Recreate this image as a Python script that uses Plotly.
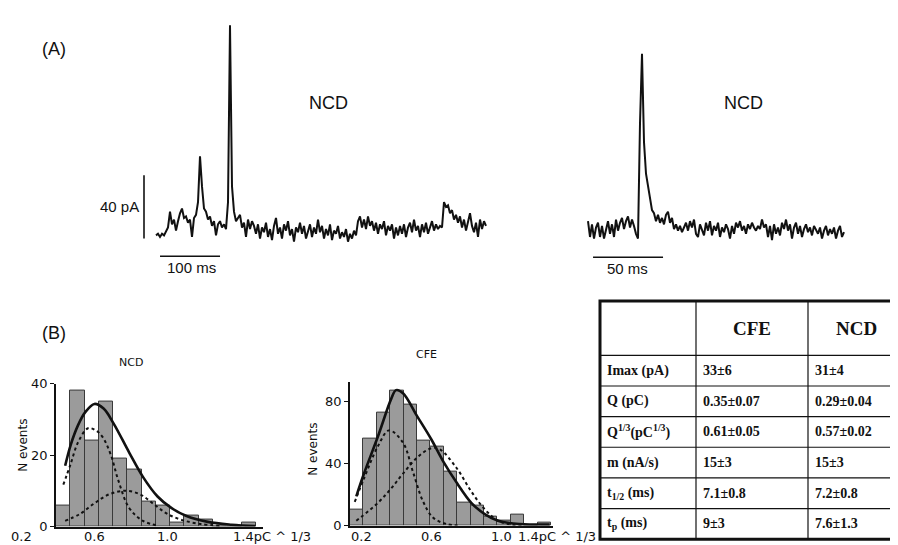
import plotly.graph_objects as go
import numpy as np

W, H = 898, 545


def px(x):
    return x / W


def py(y):
    return 1 - y / H


# ---------------- data ----------------
# (A) amperometric traces, current in pA, sampled every dt ms
trace1_dt = 10 / 3
trace1_pA = [
    -1, 0, -2, 0, -1, 2, 4, 14, 6, 9, 2, 8, 13, 16, 10, 11, 7, 9, -2, 10,
    12, 20, 49, 30, 16, 14, 9, 11, 5, 8, -1, 6, 8, 4, 6, 3, 20, 132, 30, 14,
    8, 10, 12, 4, 7, -2, 9, 3, 8, 5, 0, 6, -3, 4, 1, 7, -2, 3, -4, 5,
    10, 0, 4, -3, 6, 2, 8, -1, 3, -5, 4, 1, 7, 0, 5, -3, 2, 6, -2, 4,
    0, 9, 1, 5, -3, 3, -1, 6, -4, 2, 0, 5, -3, 1, -2, 3, -5, 0, -3, 2,
    -1, 8, 11, 4, 9, 3, 11, 5, 8, 2, 7, 0, 6, 3, 8, -1, 5, 2, 6, -3,
    4, -1, 5, 0, 6, -2, 4, 7, 1, 9, 2, 5, -2, 6, 1, 7, 0, 4, 8, 2,
    6, 3, 5, 4, 20, 17, 18, 13, 15, 9, 12, 7, 11, 4, 9, 2, 8, 13, 5, 1,
    7, -2, 9, 3, 8, 5]
trace2_dt = 10 / 7
trace2_pA = [
    8, -2, 6, -3, 4, 7, -2, 5, -3, 3, 8, 0, 6, -2, 9, 2, 7, 10, 3, 8,
    11, 4, 9, 5, 0, -3, 70, 114, 58, 38, 30, 22, 15, 13, 8, 12, 7, 10, 6, 12,
    14, 7, 10, 3, 6, 2, 5, 1, 4, 7, 2, 8, 4, 9, 0, -2, 6, 3, -1, 7,
    2, 8, -1, 5, 2, 7, -2, 4, 1, 6, 3, -3, 5, 0, 7, 4, 8, 2, 5, 0,
    6, 3, 7, 4, 2, 5, 3, 9, 4, 6, -2, 5, -4, 6, 0, 4, -1, 7, 3, 9,
    2, 6, -3, 4, 7, 0, 5, -2, 3, 6, 1, 4, -1, 5, 2, 0, 4, -3, 2, 5,
    -1, 3, 0, 4, -3, 2, 5, -2, 1]
scale_pA = 40
scale1_ms = 100
scale2_ms = 50

# (B) histograms of Q^1/3
ncd_counts = [6, 38, 24, 35, 19, 16, 7, 6, 1, 3, 2, 0, 0, 1]
ncd_bin_start = 0.39
ncd_bin_width = 0.078
cfe_counts = [10, 56, 73, 87, 78, 55, 51, 35, 15, 13, 6, 3, 7, 0, 2]
cfe_bin_start = 0.137
cfe_bin_width = 0.0766

ncd_fit_x = [0.44, 0.47, 0.51, 0.55, 0.60, 0.65, 0.705, 0.79, 0.865, 0.945, 1.02, 1.10, 1.22, 1.35, 1.48]
ncd_fit_y = [17, 22.8, 28.3, 32, 34.3, 33, 28.8, 20.7, 13.9, 8.4, 5.2, 3.0, 1.3, 0.5, 0.1]
ncd_g1_x = [0.43, 0.47, 0.51, 0.565, 0.61, 0.645, 0.69, 0.73, 0.79, 0.865, 0.95]
ncd_g1_y = [11.7, 17.5, 23.5, 27.5, 26.8, 25, 20, 13, 5.2, 1.6, 0.2]
ncd_g2_x = [0.44, 0.52, 0.60, 0.68, 0.77, 0.85, 0.93, 1.0, 1.08, 1.18, 1.29]
ncd_g2_y = [1.6, 3.5, 6.5, 9, 10, 9, 6, 3.5, 1.8, 0.7, 0.2]

cfe_fit_x = [0.173, 0.217, 0.297, 0.373, 0.40, 0.44, 0.522, 0.602, 0.672, 0.749, 0.83, 0.907, 0.983, 1.107, 1.278]
cfe_fit_y = [18.9, 33.6, 57.7, 82, 87.5, 85.5, 70.4, 55.6, 41, 27.3, 14.7, 7.4, 3.1, 1, 0.6]
cfe_g1_x = [0.164, 0.217, 0.297, 0.36, 0.44, 0.497, 0.554, 0.611, 0.688, 0.77]
cfe_g1_y = [15.3, 30.4, 51.4, 61.5, 53.5, 34.6, 15.7, 5.2, 1, 0]
cfe_g2_x = [0.173, 0.297, 0.373, 0.44, 0.522, 0.602, 0.65, 0.749, 0.83, 0.907, 0.983, 1.06, 1.12]
cfe_g2_y = [3.1, 14.7, 24.1, 33.6, 44.1, 50, 49.3, 36.7, 22, 10.5, 3.1, 0.6, 0]

x_tick_vals = [0.2, 0.6, 1.0]
x_tick_text = ["0.2", "0.6", "1.0"]
x_unit_label = "1.4pC ^ 1/3"
ncd_unit_pos = 1.346
cfe_unit_pos = 1.086

# table
table_header = ["", "CFE", "NCD"]
table_rows = ["Imax (pA)", "Q (pC)", "Q<sup>1/3</sup>(pC<sup>1/3</sup>)",
              "m (nA/s)", "t<sub>1/2</sub> (ms)", "t<sub>p</sub> (ms)"]
table_cfe = ["33±6", "0.35±0.07", "0.61±0.05", "15±3", "7.1±0.8", "9±3"]
table_ncd = ["31±4", "0.29±0.04", "0.57±0.02", "15±3", "7.2±0.8", "7.6±1.3"]

# ---------------- figure ----------------
fig = go.Figure()
LINE = "#111111"
SANS = "Liberation Sans, Arial, sans-serif"
ROUND = "DejaVu Sans, sans-serif"
SERIF = "Liberation Serif, Times New Roman, serif"

t1 = np.arange(len(trace1_pA)) * trace1_dt
t2 = np.arange(len(trace2_pA)) * trace2_dt
fig.add_trace(go.Scatter(x=t1, y=trace1_pA, mode="lines", xaxis="x", yaxis="y",
                         line=dict(color=LINE, width=2), hoverinfo="skip"))
fig.add_trace(go.Scatter(x=t2, y=trace2_pA, mode="lines", xaxis="x2", yaxis="y2",
                         line=dict(color=LINE, width=2), hoverinfo="skip"))

# scale bars (trace axes: x in ms, y in pA)
shapes = []
shapes.append(dict(type="line", xref="x", yref="y", x0=-20, x1=-20, y0=-3, y1=-3 + scale_pA,
                   line=dict(color=LINE, width=1.6)))
shapes.append(dict(type="line", xref="x", yref="y", x0=6.7, x1=6.7 + scale1_ms, y0=-14.2, y1=-14.2,
                   line=dict(color=LINE, width=1.6)))
shapes.append(dict(type="line", xref="x2", yref="y2", x0=3.6, x1=3.6 + scale2_ms, y0=-14.8, y1=-14.8,
                   line=dict(color=LINE, width=1.6)))

# histogram axes geometry (pixel domains and data ranges)
NCD_DOM = (48, 255)
NCD_RANGE = (ncd_bin_start, ncd_bin_start + 207 / 183)
CFE_DOM = (342, 545)
CFE_RANGE = (cfe_bin_start, cfe_bin_start + 203 / 175)


def data_to_paper(v, dom, rng):
    return px(dom[0] + (v - rng[0]) / (rng[1] - rng[0]) * (dom[1] - dom[0]))


ncd_centers = [ncd_bin_start + ncd_bin_width * (i + 0.5) for i in range(len(ncd_counts))]
cfe_centers = [cfe_bin_start + cfe_bin_width * (i + 0.5) for i in range(len(cfe_counts))]
bar_marker = dict(color="#9b9b9b", line=dict(color="#3a3a3a", width=1))
fig.add_trace(go.Bar(x=ncd_centers, y=ncd_counts, width=ncd_bin_width, xaxis="x3", yaxis="y3",
                     marker=bar_marker, hoverinfo="skip"))
fig.add_trace(go.Bar(x=cfe_centers, y=cfe_counts, width=cfe_bin_width, xaxis="x4", yaxis="y4",
                     marker=bar_marker, hoverinfo="skip"))

for (gx, gy, ax) in [(ncd_g1_x, ncd_g1_y, "3"), (ncd_g2_x, ncd_g2_y, "3"),
                     (cfe_g1_x, cfe_g1_y, "4"), (cfe_g2_x, cfe_g2_y, "4")]:
    fig.add_trace(go.Scatter(x=gx, y=gy, mode="lines", xaxis="x" + ax, yaxis="y" + ax,
                             line=dict(color=LINE, width=2, dash="dot", shape="spline"),
                             hoverinfo="skip"))
for (gx, gy, ax) in [(ncd_fit_x, ncd_fit_y, "3"), (cfe_fit_x, cfe_fit_y, "4")]:
    fig.add_trace(go.Scatter(x=gx, y=gy, mode="lines", xaxis="x" + ax, yaxis="y" + ax,
                             line=dict(color=LINE, width=2.6, shape="spline"),
                             hoverinfo="skip"))

ann = []


def text(x, y, s, size, family=SANS, xanchor="center", yanchor="middle", textangle=0, color=LINE):
    ann.append(dict(x=x, y=y, text=s, showarrow=False, xref="paper", yref="paper", xanchor=xanchor,
                    yanchor=yanchor, textangle=textangle,
                    font=dict(size=size, family=family, color=color)))


# panel A labels
text(px(32), py(35), "(A)", 18, xanchor="left")
text(px(320), py(90), "NCD", 18)
text(px(735), py(90), "NCD", 18)
text(px(133), py(197), "40 pA", 15, xanchor="right")
text(px(183), py(260), "100 ms", 15)
text(px(619), py(261), "50 ms", 15)

# panel B labels
text(px(32), py(327), "(B)", 18, xanchor="left")
text(px(123), py(357), "NCD", 11, family=ROUND)
text(px(418), py(349), "CFE", 11, family=ROUND)
text(px(15), py(443), "N events", 12, family=ROUND, textangle=-90)
text(px(305), py(447), "N events", 12, family=ROUND, textangle=-90)
for v, s in zip(x_tick_vals, x_tick_text):
    text(data_to_paper(v, NCD_DOM, NCD_RANGE), py(536), s, 13, family=ROUND)
    text(data_to_paper(v, CFE_DOM, CFE_RANGE), py(536), s, 13, family=ROUND)
text(data_to_paper(ncd_unit_pos, NCD_DOM, NCD_RANGE), py(536), x_unit_label, 13, family=ROUND,
     xanchor="left")
text(data_to_paper(cfe_unit_pos, CFE_DOM, CFE_RANGE), py(536), x_unit_label, 13, family=ROUND,
     xanchor="left")

# table
col_edges = [592, 688, 800, 896]
tbl_top, hdr_bottom, row_h = 294, 350, 31.5
row_edges = [hdr_bottom + row_h * i for i in range(len(table_rows) + 1)]
tbl_bottom = row_edges[-1]
shapes.append(dict(type="rect", xref="paper", yref="paper", x0=px(col_edges[0]), x1=px(col_edges[-1]),
                   y0=py(tbl_bottom), y1=py(tbl_top), line=dict(color=LINE, width=3)))
for cx in col_edges[1:-1]:
    shapes.append(dict(type="line", xref="paper", yref="paper", x0=px(cx), x1=px(cx),
                       y0=py(tbl_bottom), y1=py(tbl_top), line=dict(color=LINE, width=1.2)))
for ry in row_edges[:-1]:
    shapes.append(dict(type="line", xref="paper", yref="paper", x0=px(col_edges[0]), x1=px(col_edges[-1]),
                       y0=py(ry), y1=py(ry), line=dict(color=LINE, width=1.2)))
for j, h in enumerate(table_header):
    if h:
        text(px((col_edges[j] + col_edges[j + 1]) / 2), py((tbl_top + hdr_bottom) / 2), "<b>%s</b>" % h,
             19, family=SERIF)
for i, (lab, a, b) in enumerate(zip(table_rows, table_cfe, table_ncd)):
    yc = py((row_edges[i] + row_edges[i + 1]) / 2)
    text(px(col_edges[0] + 5), yc, "<b>%s</b>" % lab, 14, family=SERIF, xanchor="left")
    text(px(col_edges[1] + 5), yc, "<b>%s</b>" % a, 14, family=SERIF, xanchor="left")
    text(px(col_edges[2] + 5), yc, "<b>%s</b>" % b, 14, family=SERIF, xanchor="left")

# axes
hidden = dict(visible=False, showgrid=False, zeroline=False, fixedrange=True)
tr_y_range = [(225 - 280) / 1.625, 225 / 1.625]
hist_axis = dict(showline=True, linecolor=LINE, linewidth=1.5, showgrid=False, zeroline=False,
                 ticks="", showticklabels=False)
hist_yaxis = dict(showline=True, linecolor=LINE, linewidth=1.5, showgrid=False, zeroline=False,
                  ticks="outside", ticklen=4, tickwidth=1.2, tickcolor=LINE,
                  tickfont=dict(size=13, family=ROUND, color=LINE))

fig.update_layout(
    width=W, height=H, margin=dict(l=0, r=0, t=0, b=0),
    paper_bgcolor="white", plot_bgcolor="white", showlegend=False, bargap=0,
    xaxis=dict(hidden, domain=[px(80), px(500)], range=[(80 - 148) / 0.6, (500 - 148) / 0.6], anchor="y"),
    yaxis=dict(hidden, domain=[py(280), py(0)], range=tr_y_range, anchor="x"),
    xaxis2=dict(hidden, domain=[px(560), px(860)], range=[(560 - 580) / 1.4, (860 - 580) / 1.4], anchor="y2"),
    yaxis2=dict(hidden, domain=[py(280), py(0)], range=tr_y_range, anchor="x2"),
    xaxis3=dict(hist_axis, domain=[px(NCD_DOM[0]), px(NCD_DOM[1])], range=list(NCD_RANGE), anchor="y3"),
    yaxis3=dict(hist_yaxis, domain=[py(526), py(379)], range=[0, 40], tickvals=[0, 20, 40], anchor="x3"),
    xaxis4=dict(hist_axis, domain=[px(CFE_DOM[0]), px(CFE_DOM[1])], range=list(CFE_RANGE), anchor="y4"),
    yaxis4=dict(hist_yaxis, domain=[py(525), py(377)], range=[0, 93], tickvals=[0, 40, 80], anchor="x4"),
    shapes=shapes, annotations=ann,
)

fig.write_html("out.html", config={"displayModeBar": False})
